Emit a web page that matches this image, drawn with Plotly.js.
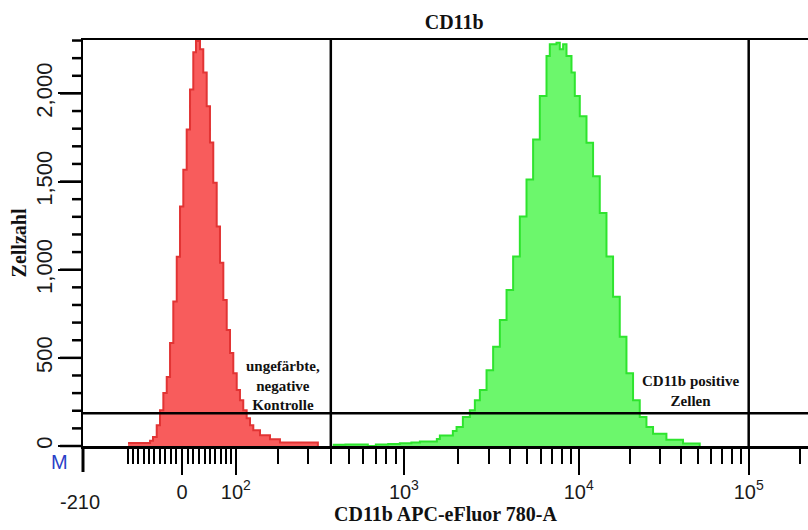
<!DOCTYPE html>
<html>
<head>
<meta charset="utf-8">
<script src="https://cdn.plot.ly/plotly-3.0.1.min.js"></script>
<style>html,body{margin:0;padding:0;background:#fff;}#chart{width:808px;height:530px;}</style>
</head>
<body>
<div id="chart"></div>
<script>
// ---- Data ----
// Negative control (unstained) histogram: bin start intensity, cell count
const redIntensity = [-100.6, -57.7, -52.2, -45.4, -39.4, -33.4, -27.3, -21.4, -15.6, -9.5, -3.7, 2.1, 8.1, 14.0, 19.8, 24.6, 31.8, 37.7, 43.9, 49.9, 56.0, 62.4, 68.6, 75.0, 81.6, 88.1, 94.7, 101.7, 108.5, 115.5, 122.9, 130.3, 137.8, 153.6, 178.8, 206.3, 340];
const redCounts    = [17, 30, 51, 118, 203, 300, 392, 584, 819, 1074, 1359, 1567, 1795, 2022, 2233, 2297, 2250, 2119, 1927, 1721, 1493, 1245, 1039, 828, 658, 527, 413, 317, 260, 203, 157, 118, 89, 61, 38, 20, 0];

// CD11b stained histogram
const greenIntensity = [410, 480, 560, 635, 702, 820, 950, 1100, 1226, 1525, 1586, 1877, 1970, 2139, 2344, 2503, 2673, 2919, 3185, 3480, 3804, 4152, 4539, 4962, 5419, 5927, 6483, 6776, 7413, 7749, 8100, 8478, 9068, 9480, 10140, 11097, 12128, 13275, 14533, 15886, 17391, 19040, 20819, 22794, 24958, 27292, 32717, 40992, 51421];
const greenCounts    = [7, 9, 8, 0, 9, 12, 15, 20, 26, 40, 60, 85, 108, 165, 203, 260, 317, 430, 563, 715, 885, 1075, 1302, 1511, 1738, 1985, 2212, 2279, 2288, 2250, 2279, 2212, 2118, 1985, 1871, 1720, 1530, 1322, 1075, 847, 620, 412, 260, 165, 108, 70, 36, 14, 0];

// Gates
const gateIntensity = [400, 100000];
const gateCount = 186;

// Axes
const xMajorValues = [0, 100, 1000, 10000, 100000];
const xMajorLabels = ['0', '10<sup>2</sup>', '10<sup>3</sup>', '10<sup>4</sup>', '10<sup>5</sup>'];
const xMinorValues = [-100,-90,-80,-70,-60,-50,-40,-30,-20,-10,10,20,30,40,50,60,70,80,90,200,300,400,500,600,700,800,900,2000,3000,4000,5000,6000,7000,8000,9000,20000,30000,40000,50000,60000,70000,80000,90000,200000];
const xAxisMin = -210;
const xAxisMinLabel = '-210';
const xAxisMax = 224000;
const yMajorValues = [0, 500, 1000, 1500, 2000];
const yMajorLabels = ['0', '500', '1,000', '1,500', '2,000'];
const yMinorValues = [100,200,300,400,600,700,800,900,1100,1200,1300,1400,1600,1700,1800,1900,2100,2200,2300];
const yAxisMax = 2303;

// ---- Biexponential (logicle-like) display transform ----
const BIEX_K = 44.8, BIEX_P = 1.9;
function biexForward(u) {
  const a = Math.abs(u);
  const s = BIEX_K * (Math.exp(a) - BIEX_P * BIEX_P * Math.exp(-a / BIEX_P) + BIEX_P * BIEX_P - 1);
  return u < 0 ? -s : s;
}
function toDisplay(v) {
  let lo = -30, hi = 30;
  for (let i = 0; i < 200; i++) {
    const mid = (lo + hi) / 2;
    if (biexForward(mid) < v) lo = mid; else hi = mid;
  }
  return (lo + hi) / 2;
}

const PLOT_W = 808 - 83, PLOT_H = 530 - 40 - 84;
const serifBold = {family: 'Liberation Serif, Times New Roman, serif', size: 20, color: '#111', weight: 'bold'};
const xTickFont = {family: 'Liberation Sans, Arial, sans-serif', size: 20, color: '#1a1a1a'};
const yTickFont = {family: 'Liberation Sans, Arial, sans-serif', size: 22, color: '#1a1a1a'};

const traces = [
  {
    type: 'scatter', mode: 'lines', name: 'ungefärbte, negative Kontrolle',
    x: redIntensity.map(toDisplay), y: redCounts,
    line: {shape: 'hv', color: '#e23434', width: 2},
    fill: 'tozeroy', fillcolor: '#f85c5c', hoverinfo: 'skip'
  },
  {
    type: 'scatter', mode: 'lines', name: 'CD11b positive Zellen',
    x: greenIntensity.map(toDisplay), y: greenCounts,
    line: {shape: 'hv', color: '#2ee42e', width: 2},
    fill: 'tozeroy', fillcolor: '#6cf76c', hoverinfo: 'skip'
  }
];

const xMin = toDisplay(xAxisMin);
const shapes = gateIntensity.map(v => ({
  type: 'line', xref: 'x', yref: 'paper', x0: toDisplay(v), x1: toDisplay(v), y0: 0, y1: 1,
  line: {color: '#000', width: 2.5}
}));
shapes.push({type: 'line', xref: 'paper', yref: 'y', x0: 0, x1: 1, y0: gateCount, y1: gateCount,
  line: {color: '#000', width: 2.5}});
// long tick at the axis minimum (-210)
shapes.push({type: 'line', xref: 'paper', yref: 'paper', x0: 0, x1: 0, y0: 0, y1: -26 / PLOT_H,
  line: {color: '#000', width: 3}});
// count-axis tick marks (major and minor) on the linear count scale
yMajorValues.forEach(v => shapes.push({type: 'line', xref: 'paper', yref: 'paper', x0: 0, x1: -23 / PLOT_W,
  y0: v / yAxisMax, y1: v / yAxisMax, line: {color: '#000', width: 2.5}}));
yMinorValues.forEach(v => shapes.push({type: 'line', xref: 'paper', yref: 'paper', x0: 0, x1: -11 / PLOT_W,
  y0: v / yAxisMax, y1: v / yAxisMax, line: {color: '#000', width: 2.5}}));

const annFont = {family: 'Liberation Serif, Times New Roman, serif', size: 15, color: '#111', weight: 'bold'};

const layout = {
  width: 808, height: 530,
  margin: {l: 83, r: 0, t: 40, b: 84, pad: 0},
  paper_bgcolor: '#ffffff', plot_bgcolor: '#ffffff',
  showlegend: false,
  title: {text: 'CD11b', font: serifBold, x: 0.512, xref: 'paper', xanchor: 'center', y: 0.958, yref: 'container', yanchor: 'middle'},
  xaxis: {
    range: [xMin, toDisplay(xAxisMax)],
    showline: true, linecolor: '#000', linewidth: 2.5, mirror: true,
    showgrid: false, zeroline: false,
    tickmode: 'array', tickvals: xMajorValues.map(toDisplay), ticktext: xMajorLabels,
    ticks: 'outside', ticklen: 26, tickwidth: 2, tickcolor: '#000',
    tickfont: xTickFont, ticklabelstandoff: 0,
    minor: {tickmode: 'array', tickvals: xMinorValues.map(toDisplay), ticks: 'outside', ticklen: 15, tickwidth: 2, tickcolor: '#000', showgrid: false},
    title: {text: 'CD11b APC-eFluor 780-A', font: serifBold, standoff: 4}
  },
  yaxis: {
    range: [0, yAxisMax],
    showline: true, linecolor: '#000', linewidth: 2.5, mirror: false,
    showgrid: false, zeroline: false,
    tickmode: 'array', tickvals: yMajorValues, ticktext: yMajorLabels, tickangle: -90,
    ticks: 'outside', ticklen: 23, tickwidth: 2, tickcolor: '#000',
    tickfont: yTickFont, ticklabelstandoff: -3,
    title: {text: 'Zellzahl', font: serifBold, standoff: 0}
  },
  shapes: shapes,
  annotations: [
    {text: 'ungefärbte,<br>negative<br>Kontrolle', xref: 'paper', yref: 'paper', x: 0.276, y: 0.150,
     xanchor: 'center', yanchor: 'middle', showarrow: false, font: annFont, align: 'center'},
    {text: 'CD11b positive<br>Zellen', xref: 'paper', yref: 'paper', x: 0.8386, y: 0.1355,
     xanchor: 'center', yanchor: 'middle', showarrow: false, font: annFont, align: 'center'},
    {text: xAxisMinLabel, xref: 'paper', yref: 'paper', x: -0.004, y: -0.137,
     xanchor: 'center', yanchor: 'middle', showarrow: false, font: xTickFont},
    {text: 'M', xref: 'paper', yref: 'paper', x: -0.032, y: -0.04,
     xanchor: 'center', yanchor: 'middle', showarrow: false,
     font: {family: 'Liberation Sans, Arial, sans-serif', size: 20, color: '#2a3fc8'}}
  ]
};

Plotly.newPlot('chart', traces, layout, {staticPlot: true, displayModeBar: false});
</script>
</body>
</html>
